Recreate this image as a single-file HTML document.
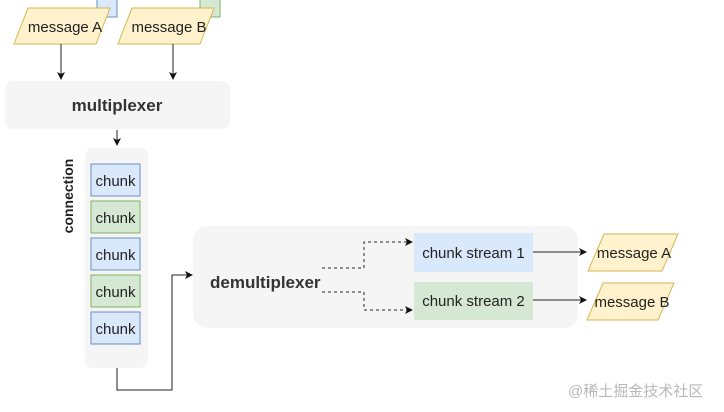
<!DOCTYPE html>
<html><head><style>body{margin:0;background:#fff}svg{display:block}text{font-family:"Liberation Sans","Noto Sans CJK SC",sans-serif}</style></head>
<body>
<svg width="724" height="412" viewBox="0 0 724 412" xmlns="http://www.w3.org/2000/svg">
<defs><marker id="a" markerWidth="8" markerHeight="8" refX="7" refY="4" orient="auto" markerUnits="userSpaceOnUse"><path d="M0,0L8,4L0,8L2,4z" fill="#111"/></marker></defs>
<rect x="97" y="-2" width="20" height="19" fill="#dae8fc" stroke="#6c8ebf"/>
<rect x="200" y="-2" width="20" height="19" fill="#d5e8d4" stroke="#82b366"/>
<polygon points="28,8 110,8 96,44 14,44" fill="#fff2cc" stroke="#d6b656"/>
<text x="65" y="32" font-size="15" text-anchor="middle" fill="#222">message A</text>
<polygon points="132,8 214,8 200,44 118,44" fill="#fff2cc" stroke="#d6b656"/>
<text x="169" y="32" font-size="15" text-anchor="middle" fill="#222">message B</text>
<line x1="61" y1="44" x2="61" y2="79" stroke="#222" marker-end="url(#a)"/>
<line x1="173" y1="44" x2="173" y2="79" stroke="#222" marker-end="url(#a)"/>
<rect x="5" y="81" width="225" height="48" rx="8" fill="#f5f5f5"/>
<text x="117" y="111" font-size="17" font-weight="bold" text-anchor="middle" fill="#333">multiplexer</text>
<line x1="117" y1="130" x2="117" y2="145" stroke="#222" marker-end="url(#a)"/>
<rect x="85" y="148" width="63" height="220" rx="8" fill="#f5f5f5"/>
<text transform="translate(73,196) rotate(-90)" font-size="14" font-weight="bold" text-anchor="middle" fill="#222">connection</text>
<g font-size="15" text-anchor="middle" fill="#222">
<rect x="91" y="164" width="49" height="32" fill="#dae8fc" stroke="#6c8ebf"/><text x="115.5" y="186">chunk</text>
<rect x="91" y="201" width="49" height="32" fill="#d5e8d4" stroke="#82b366"/><text x="115.5" y="223">chunk</text>
<rect x="91" y="238" width="49" height="32" fill="#dae8fc" stroke="#6c8ebf"/><text x="115.5" y="260">chunk</text>
<rect x="91" y="275" width="49" height="32" fill="#d5e8d4" stroke="#82b366"/><text x="115.5" y="297">chunk</text>
<rect x="91" y="312" width="49" height="32" fill="#dae8fc" stroke="#6c8ebf"/><text x="115.5" y="334">chunk</text>
</g>
<rect x="193" y="226" width="385" height="102" rx="14" fill="#f5f5f5"/>
<polyline points="117,368 117,390 172,390 172,275 192,275" fill="none" stroke="#222" marker-end="url(#a)"/>
<text x="210" y="288" font-size="17" font-weight="bold" fill="#333">demultiplexer</text>
<rect x="414" y="233" width="119" height="39" fill="#dae8fc"/>
<rect x="414" y="282" width="119" height="38" fill="#d5e8d4"/>
<text x="473.5" y="258" font-size="15" text-anchor="middle" fill="#222">chunk stream 1</text>
<text x="473.5" y="306" font-size="15" text-anchor="middle" fill="#222">chunk stream 2</text>
<polyline points="322,268 364,268 364,242 412,242" fill="none" stroke="#222" stroke-dasharray="3,3" marker-end="url(#a)"/>
<polyline points="322,292 364,292 364,310 412,310" fill="none" stroke="#222" stroke-dasharray="3,3" marker-end="url(#a)"/>
<line x1="533" y1="252" x2="586" y2="252" stroke="#222" marker-end="url(#a)"/>
<line x1="533" y1="300" x2="586" y2="300" stroke="#222" marker-end="url(#a)"/>
<polygon points="604,234 678,234 662,271 588,271" fill="#fff2cc" stroke="#d6b656"/>
<text x="634" y="258" font-size="15" text-anchor="middle" fill="#222">message A</text>
<polygon points="603,283 674,283 658,320 587,320" fill="#fff2cc" stroke="#d6b656"/>
<text x="632" y="307" font-size="15" text-anchor="middle" fill="#222">message B</text>
<text x="568" y="396" font-size="15" fill="#b8b8b8">@稀土掘金技术社区</text>
</svg>
</body></html>
